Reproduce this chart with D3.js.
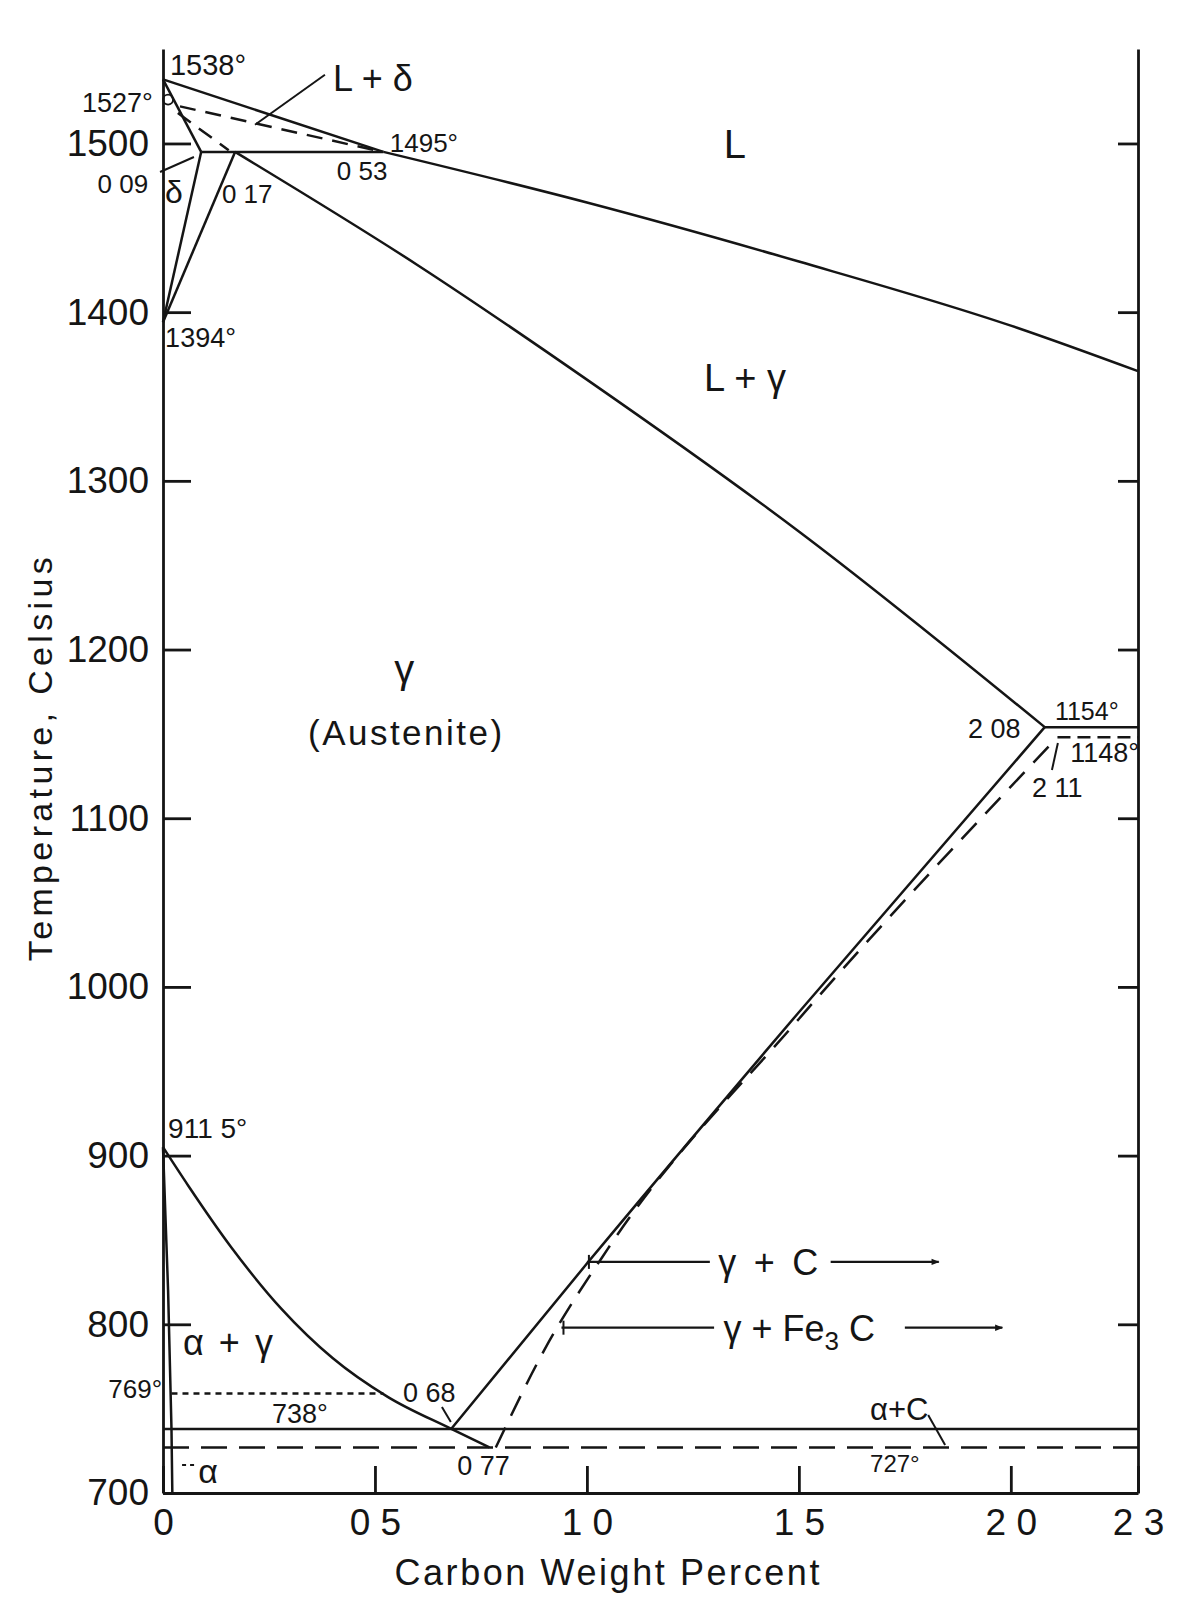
<!DOCTYPE html>
<html><head><meta charset="utf-8">
<script src="https://cdn.jsdelivr.net/npm/d3@7"></script>
<style>
body{margin:0;background:#fff}
text{font-family:"Liberation Sans","DejaVu Sans",sans-serif;fill:#151515}
</style>
</head><body>
<svg id="chart" width="1199" height="1605"></svg>
<script>
// ---- axis ticks ----
const xTicks = [0, 0.5, 1.0, 1.5, 2.0, 2.3];
const xTickLabels = ["0", "0 5", "1 0", "1 5", "2 0", "2 3"];
const yTicks = [700, 800, 900, 1000, 1100, 1200, 1300, 1400, 1500];
const yTickLabels = ["700", "800", "900", "1000", "1100", "1200", "1300", "1400", "1500"];

// ---- phase boundaries (carbon wt%, temperature °C) ----
const liquidusDelta = [[0, 1538], [0.52, 1495]];
const liquidusGamma = [[0.52, 1495], [1.0, 1465], [1.5, 1430], [2.0, 1392], [2.3, 1365]];
const deltaSolidus = [[0, 1538], [0.09, 1495]];
const peritectic = [[0.09, 1495], [0.52, 1495]];
const deltaGammaLeft = [[0.09, 1495], [0, 1394]];
const deltaGammaRight = [[0.17, 1495], [0, 1394]];
const gammaSolidus = [[0.17, 1495], [0.6, 1428], [1.0, 1360], [1.5, 1270], [2.08, 1154]];
const eutecticStable = [[2.08, 1154], [2.3, 1154]];
const eutecticMeta = [[2.11, 1148], [2.3, 1148]];
const acmStable = [[0.68, 738], [1.0, 836], [1.5, 985], [2.08, 1154]];
const acmMeta = [[0.785, 727], [0.9, 785], [1.05, 845], [1.5, 981], [2.11, 1148]];
const a3Line = [[0, 905], [0.06, 882], [0.16, 846], [0.28, 809], [0.4, 780], [0.53, 757], [0.68, 738], [0.77, 727]];
const alphaSolvus = [[0, 905], [0.012, 820], [0.02, 738], [0.022, 700]];
const curieLine = [[0.02, 759], [0.52, 759]];
const eutectoidStable = [[0, 738], [2.3, 738]];
const eutectoidMeta = [[0, 727], [2.3, 727]];
const deltaDashA = [[0.04, 1522], [0.5, 1496]];
const deltaDashB = [[0.035, 1518], [0.155, 1496]];

// ---- labels: text, carbon, temperature ----
const labelText = ["1538°", "1527°", "L + δ", "1495°", "0 53", "0 09", "δ", "0 17", "L", "1394°", "L + γ", "γ", "(Austenite)",
  "2 08", "1154°", "1148°", "2 11", "911 5°", "769°", "738°", "0 68", "0 77", "α", "α + γ", "α+C", "727°"];
const labelC = [0.0165, -0.024, 0.401, 0.535, 0.410, -0.035, 0.005, 0.139, 1.349, 0.005, 1.373, 0.569, 0.571,
  1.899, 2.104, 2.140, 2.050, 0.012, -0.002, 0.257, 0.566, 0.694, 0.083, 0.047, 1.668, 1.668];
const labelT = [1540.5, 1518.6, 1531.2, 1494.9, 1478.3, 1470.6, 1464.7, 1464.7, 1491.3, 1379.3, 1353.2, 1180.1, 1143.4,
  1147.5, 1158.2, 1133.3, 1112.6, 910.4, 756.3, 741.5, 753.9, 710.7, 705.9, 781.8, 743.3, 712.4];
</script>
<script>
const svg = d3.select("#chart");
const x = d3.scaleLinear().domain([0, 2.3]).range([163, 1138]);
const y = d3.scaleLinear().domain([700, 1556]).range([1493, 49]);
const ink = "#151515";

const anchors = ["start","end","start","start","start","end","start","start","middle","start","middle","middle","middle",
  "start","start","start","start","start","end","start","start","start","start","start","start","start"];
const sizes = [29,27,36,26,26,26,32,26,40,27,38,40,35,27,25,27,27,28,26,27,27,27,34,36,31,24];
const lens = {"(Austenite)": 194, "α + γ": 90};

// axes
const gL = svg.append("g").attr("transform", `translate(${x(0)},0)`)
  .call(d3.axisLeft(y).tickValues(yTicks).tickSize(-28).tickSizeOuter(0).tickPadding(14)
    .tickFormat((d, i) => yTickLabels[i]));
const gR = svg.append("g").attr("transform", `translate(${x(2.3)},0)`)
  .call(d3.axisRight(y).tickValues(yTicks.slice(1)).tickSize(-20).tickSizeOuter(0).tickFormat(""));
const gB = svg.append("g").attr("transform", `translate(0,${y(700)})`)
  .call(d3.axisBottom(x).tickValues(xTicks).tickSize(-27).tickSizeOuter(0).tickPadding(16)
    .tickFormat((d, i) => xTickLabels[i]));
[gL, gR, gB].forEach(g => {
  g.selectAll("path,line").attr("stroke", ink).attr("stroke-width", 2.8);
  g.selectAll("text").attr("font-size", 37).attr("fill", ink)
    .style("font-family", '"Liberation Sans", sans-serif');
});

// axis titles
svg.append("text").attr("transform", `translate(52,${y(1135)}) rotate(-90)`)
  .attr("text-anchor", "middle").attr("font-size", 34).attr("textLength", 404).attr("lengthAdjust", "spacing")
  .text("Temperature, Celsius");
svg.append("text").attr("x", x(1.0) + 20).attr("y", 1585)
  .attr("text-anchor", "middle").attr("font-size", 36).attr("textLength", 425).attr("lengthAdjust", "spacing")
  .text("Carbon Weight Percent");

// lines
const lineS = d3.line().x(d => x(d[0])).y(d => y(d[1]));
const lineC = d3.line().x(d => x(d[0])).y(d => y(d[1])).curve(d3.curveMonotoneX);
function draw(data, gen, dash, w) {
  svg.append("path").datum(data).attr("d", gen).attr("fill", "none").attr("stroke", ink)
    .attr("stroke-width", w || 2.5).attr("stroke-dasharray", dash || null).attr("stroke-linecap", "butt");
}
draw(liquidusDelta, lineS);
draw(liquidusGamma, lineC);
draw(deltaSolidus, lineS);
draw(peritectic, lineS);
draw(deltaGammaLeft, lineS);
draw(deltaGammaRight, lineS);
draw(gammaSolidus, lineC);
draw(eutecticStable, lineS);
draw(eutecticMeta, lineS, "13,7");
draw(acmStable, lineC);
draw(acmMeta, lineC, "22,13");
draw(a3Line, lineC);
draw(alphaSolvus, lineS);
draw(curieLine, lineS, "6,5");
draw(eutectoidStable, lineS);
draw(eutectoidMeta, lineS, "26,12");
draw(deltaDashA, lineS, "16,10");
draw(deltaDashB, lineS, "16,10");

// small circle at 1527
svg.append("circle").attr("cx", x(0.012)).attr("cy", y(1526)).attr("r", 5)
  .attr("fill", "none").attr("stroke", ink).attr("stroke-width", 1.8);

// leaders
const leaders = [
  [[0.382, 1540.7], [0.217, 1511.1]],
  [[0.073, 1492.0], [-0.007, 1483.1]],
  [[2.111, 1144.6], [2.097, 1128.6]],
  [[0.658, 751.0], [0.679, 742.1]],
  [[1.805, 746.2], [1.845, 728.5]]
];
leaders.forEach(l => draw(l, lineS, null, 2));
draw([[0.045, 716.6], [0.075, 716.6]], lineS, "4,4", 2);

// labels
labelText.forEach((t, i) => {
  const el = svg.append("text").attr("x", x(labelC[i])).attr("y", y(labelT[i]))
    .attr("text-anchor", anchors[i]).attr("font-size", sizes[i]).text(t);
  if (lens[t]) el.attr("textLength", lens[t]).attr("lengthAdjust", "spacing");
});

// arrow labels
svg.append("defs").append("marker").attr("id", "ah").attr("viewBox", "0 0 10 10")
  .attr("refX", 9).attr("refY", 5).attr("markerWidth", 15).attr("markerHeight", 8)
  .attr("markerUnits", "userSpaceOnUse").attr("orient", "auto")
  .append("path").attr("d", "M0,1 L10,5 L0,9 Z").attr("fill", ink);

const arrowRows = [
  {T: 837, from: 1.0, textC: 1.31, to1: 1.29, from2: 1.575, to2: 1.83},
  {T: 798, from: 0.94, textC: 1.322, to1: 1.30, from2: 1.75, to2: 1.98}
];
arrowRows.forEach((r, i) => {
  draw([[r.from, r.T], [r.to1, r.T]], lineS, null, 2.2);
  svg.append("line").attr("x1", x(r.from) + 2).attr("x2", x(r.from) + 2)
    .attr("y1", y(r.T) - 7).attr("y2", y(r.T) + 7).attr("stroke", ink).attr("stroke-width", 2);
  svg.append("path").datum([[r.from2, r.T], [r.to2, r.T]]).attr("d", lineS).attr("stroke", ink)
    .attr("stroke-width", 2.2).attr("marker-end", "url(#ah)");
  const tx = svg.append("text").attr("x", x(r.textC)).attr("y", y(r.T) + 13).attr("font-size", 36);
  if (i === 0) tx.text("γ + C").attr("textLength", 100).attr("lengthAdjust", "spacing");
  else {
    tx.append("tspan").text("γ + Fe");
    tx.append("tspan").attr("dy", 9).attr("font-size", 26).text("3");
    tx.append("tspan").attr("dy", -9).text(" C");
  }
});
</script>
</body></html>
